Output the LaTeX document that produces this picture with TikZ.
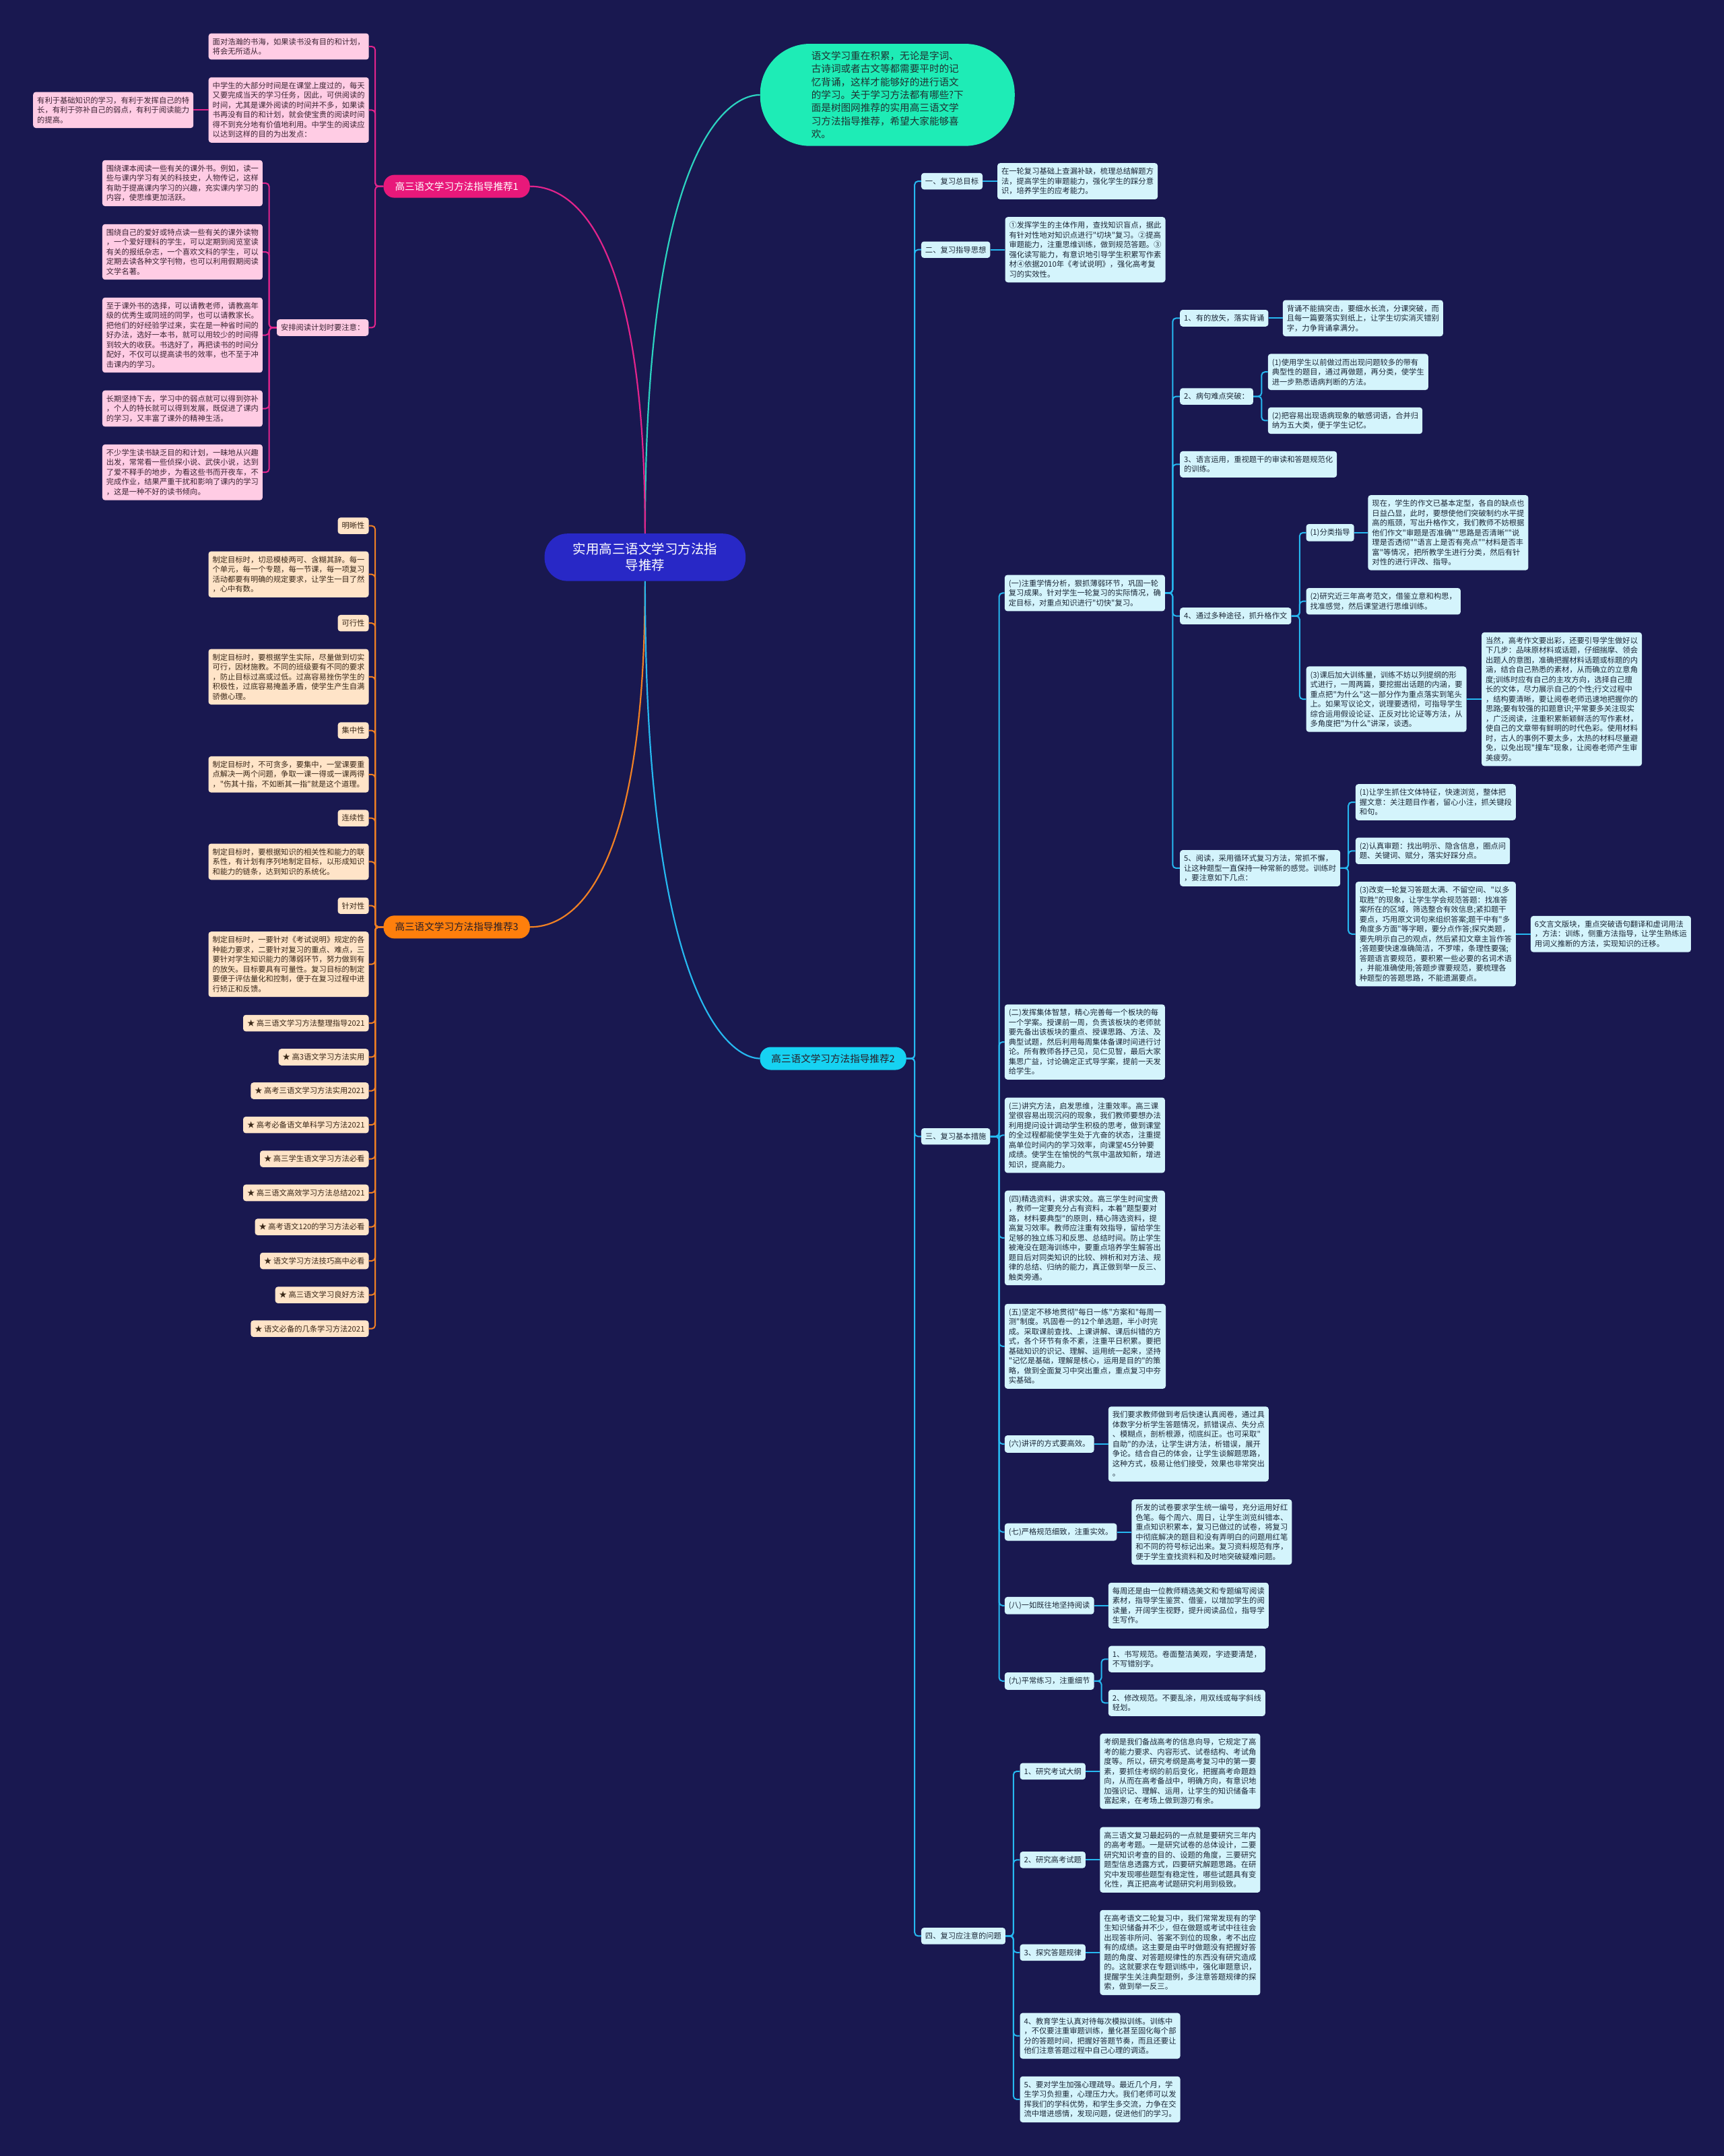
\documentclass[tikz,border=0pt]{standalone}
\usepackage{fontspec}
\setmainfont[Ligatures=TeXOff]{Noto Sans CJK SC}
\definecolor{bg}{RGB}{25,24,80}
\definecolor{rootfill}{RGB}{40,40,198}
\definecolor{mint}{RGB}{30,236,182}
\definecolor{minttext}{RGB}{30,50,50}
\definecolor{tealline}{RGB}{44,211,192}
\definecolor{magentalab}{RGB}{232,24,122}
\definecolor{pinkline}{RGB}{226,36,140}
\definecolor{pinkfill}{RGB}{255,204,228}
\definecolor{pinktext}{RGB}{60,36,52}
\definecolor{orangelab}{RGB}{255,127,12}
\definecolor{orangeline}{RGB}{240,128,36}
\definecolor{peachfill}{RGB}{255,228,200}
\definecolor{peachtext}{RGB}{58,40,24}
\definecolor{cyanlab}{RGB}{22,210,242}
\definecolor{cyanline}{RGB}{38,184,240}
\definecolor{cyanfill}{RGB}{212,244,252}
\definecolor{cyantext}{RGB}{28,40,56}
\definecolor{labdark}{RGB}{40,30,40}
\tikzset{
  notebase/.style={rounded corners=4pt, align=left, inner xsep=6pt, inner ysep=7pt,
    font=\fontsize{11.3}{14.5}\selectfont},
  pnote/.style={notebase, fill=pinkfill, text=pinktext},
  onote/.style={notebase, fill=peachfill, text=peachtext},
  cnote/.style={notebase, fill=cyanfill, text=cyantext},
  branchlab/.style={rounded corners=16pt, minimum height=34pt, inner xsep=17pt, inner ysep=0pt,
    font=\fontsize{14.6}{17}\selectfont},
  rootnode/.style={fill=rootfill, text=white, rounded corners=34pt, minimum width=298.5pt,
    minimum height=70.4pt, align=center, font=\fontsize{19.5}{24}\selectfont},
  bubblenode/.style={fill=mint, text=minttext, rounded corners=74pt, minimum width=378pt,
    minimum height=151.7pt, align=left, font=\fontsize{14.6}{19.4}\selectfont},
  pcon/.style={draw=pinkline, line width=2pt, rounded corners=5pt},
  ocon/.style={draw=orangeline, line width=2pt, rounded corners=5pt},
  ccon/.style={draw=cyanline, line width=2pt, rounded corners=5pt},
  mainline/.style={line width=2.2pt},
}
\begin{document}
\begin{tikzpicture}[x=2.0415pt,y=-2.0415pt]
\fill[bg] (0,0) rectangle (1254,1568);
\useasboundingbox (0,0) rectangle (1254,1568);

% ---------- root, bubble, branch labels ----------
\node[rootnode] (root) at (469.2,405.3) {实用高三语文学习方法指\\导推荐};
\node[bubblenode] (bub) at (645.5,69) {语文学习重在积累，无论是字词、\\古诗词或者古文等都需要平时的记\\忆背诵，这样才能够好的进行语文\\的学习。关于学习方法都有哪些?下\\面是树图网推荐的实用高三语文学\\习方法指导推荐，希望大家能够喜\\欢。};
\node[branchlab, fill=magentalab, text=white] (lab1) at (332.2,135.5) {高三语文学习方法指导推荐1};
\node[branchlab, fill=orangelab, text=labdark] (lab3) at (332.2,674.2) {高三语文学习方法指导推荐3};
\node[branchlab, fill=cyanlab, text=labdark] (lab2) at (606,769.8) {高三语文学习方法指导推荐2};

\draw[mainline, draw=tealline] (root.north) .. controls (469.2,105) and (530,69) .. (bub.west);
\draw[mainline, draw=pinkline] (root.north) .. controls (469.2,159.5) and (411.5,135.5) .. (lab1.east);
\draw[mainline, draw=orangeline] (root.south) .. controls (469.2,651) and (411.5,674.2) .. (lab3.east);
\draw[mainline, draw=cyanline] (root.south) .. controls (469.2,734.8) and (533.9,769.8) .. (lab2.west);

% ---------- branch 1 (pink) ----------
\node[pnote, anchor=east] (p1a) at (268.4,33.8) {面对浩瀚的书海，如果读书没有目的和计划，\\将会无所适从。};
\node[pnote, anchor=east] (p1b) at (268.4,80) {中学生的大部分时间是在课堂上度过的，每天\\又要完成当天的学习任务，因此，可供阅读的\\时间，尤其是课外阅读的时间并不多，如果读\\书再没有目的和计划，就会使宝贵的阅读时间\\得不到充分地有价值地利用。中学生的阅读应\\以达到这样的目的为出发点：};
\node[pnote, anchor=east] (p1c) at (140.8,80) {有利于基础知识的学习，有利于发挥自己的特\\长，有利于弥补自己的弱点，有利于阅读能力\\的提高。};
\node[pnote, anchor=east] (p1d) at (268.2,238.3) {安排阅读计划时要注意：};
\node[pnote, anchor=east] (pd1) at (191.1,133.2) {围绕课本阅读一些有关的课外书。例如，读一\\些与课内学习有关的科技史，人物传记，这样\\有助于提高课内学习的兴趣，充实课内学习的\\内容，使思维更加活跃。};
\node[pnote, anchor=east] (pd2) at (191.1,183.2) {围绕自己的爱好或特点读一些有关的课外读物\\，一个爱好理科的学生，可以定期到阅览室读\\有关的报纸杂志，一个喜欢文科的学生，可以\\定期去读各种文学刊物，也可以利用假期阅读\\文学名著。};
\node[pnote, anchor=east] (pd3) at (191.1,243.7) {至于课外书的选择，可以请教老师，请教高年\\级的优秀生或同班的同学，也可以请教家长。\\把他们的好经验学过来，实在是一种省时间的\\好办法，选好一本书，就可以用较少的时间得\\到较大的收获。书选好了，再把读书的时间分\\配好，不仅可以提高读书的效率，也不至于冲\\击课内的学习。};
\node[pnote, anchor=east] (pd4) at (191.1,297.1) {长期坚持下去，学习中的弱点就可以得到弥补\\，个人的特长就可以得到发展，既促进了课内\\的学习，又丰富了课外的精神生活。};
\node[pnote, anchor=east] (pd5) at (191.1,343.5) {不少学生读书缺乏目的和计划，一昧地从兴趣\\出发，常常看一些侦探小说、武侠小说，达到\\了爱不释手的地步，为看这些书而开夜车，不\\完成作业，结果严重干扰和影响了课内的学习\\，这是一种不好的读书倾向。};

\foreach \n in {p1a,p1b,p1d} \draw[pcon] (lab1.west) -- ++(-6,0) |- (\n.east);
\draw[pcon] (p1b.west) -- (p1c.east);
\foreach \n in {pd1,pd2,pd3,pd4,pd5} \draw[pcon] (p1d.west) -- ++(-5.5,0) |- (\n.east);

% ---------- branch 3 (orange) ----------
\node[onote, anchor=east] (o1h) at (268.3,382.4) {明晰性};
\node[onote, anchor=east] (o1n) at (268.3,417.7) {制定目标时，切忌模棱两可、含糊其辞。每一\\个单元，每一个专题，每一节课，每一项复习\\活动都要有明确的规定要求，让学生一目了然\\，心中有数。};
\node[onote, anchor=east] (o2h) at (268.3,453.2) {可行性};
\node[onote, anchor=east] (o2n) at (268.3,492.2) {制定目标时，要根据学生实际，尽量做到切实\\可行，因材施教。不同的班级要有不同的要求\\，防止目标过高或过低。过高容易挫伤学生的\\积极性，过底容易掩盖矛盾，使学生产生自满\\骄傲心理。};
\node[onote, anchor=east] (o3h) at (268.3,531.3) {集中性};
\node[onote, anchor=east] (o3n) at (268.3,563.2) {制定目标时，不可贪多，要集中，一堂课要重\\点解决一两个问题，争取一课一得或一课两得\\，"伤其十指，不如断其一指"就是这个道理。};
\node[onote, anchor=east] (o4h) at (268.3,595) {连续性};
\node[onote, anchor=east] (o4n) at (268.3,626.7) {制定目标时，要根据知识的相关性和能力的联\\系性，有计划有序列地制定目标，以形成知识\\和能力的链条，达到知识的系统化。};
\node[onote, anchor=east] (o5h) at (268.3,658.7) {针对性};
\node[onote, anchor=east] (o5n) at (268.3,701.3) {制定目标时，一要针对《考试说明》规定的各\\种能力要求，二要针对复习的重点、难点，三\\要针对学生知识能力的薄弱环节，努力做到有\\的放矢。目标要具有可量性。复习目标的制定\\要便于评估量化和控制，便于在复习过程中进\\行矫正和反馈。};
\node[onote, anchor=east] (ol1) at (268.3,744.1) {★ 高三语文学习方法整理指导2021};
\node[onote, anchor=east] (ol2) at (268.3,768.8) {★ 高3语文学习方法实用};
\node[onote, anchor=east] (ol3) at (268.3,793.3) {★ 高考三语文学习方法实用2021};
\node[onote, anchor=east] (ol4) at (268.3,818.1) {★ 高考必备语文单科学习方法2021};
\node[onote, anchor=east] (ol5) at (268.3,842.8) {★ 高三学生语文学习方法必看};
\node[onote, anchor=east] (ol6) at (268.3,867.5) {★ 高三语文高效学习方法总结2021};
\node[onote, anchor=east] (ol7) at (268.3,892.3) {★ 高考语文120的学习方法必看};
\node[onote, anchor=east] (ol8) at (268.3,917) {★ 语文学习方法技巧高中必看};
\node[onote, anchor=east] (ol9) at (268.3,941.8) {★ 高三语文学习良好方法};
\node[onote, anchor=east] (ol10) at (268.3,966.3) {★ 语文必备的几条学习方法2021};

\foreach \n in {o1h,o1n,o2h,o2n,o3h,o3n,o4h,o4n,o5h,o5n,ol1,ol2,ol3,ol4,ol5,ol6,ol7,ol8,ol9,ol10}
  \draw[ocon] (lab3.west) -- ++(-6,0) |- (\n.east);

% ---------- branch 2 (cyan) ----------
\node[cnote, anchor=west] (s1) at (670,131.8) {一、复习总目标};
\node[cnote, anchor=west] (s1n) at (725.4,131.8) {在一轮复习基础上查漏补缺，梳理总结解题方\\法，提高学生的审题能力，强化学生的踩分意\\识，培养学生的应考能力。};
\node[cnote, anchor=west] (s2) at (670,181.6) {二、复习指导思想};
\node[cnote, anchor=west] (s2n) at (731,181.6) {①发挥学生的主体作用，查找知识盲点，据此\\有针对性地对知识点进行"切块"复习。②提高\\审题能力，注重思维训练，做到规范答题。③\\强化读写能力，有意识地引导学生积累写作素\\材④依据2010年《考试说明》，强化高考复\\习的实效性。};
\node[cnote, anchor=west] (s3) at (670,826.5) {三、复习基本措施};
\node[cnote, anchor=west] (s4) at (670,1408) {四、复习应注意的问题};

\foreach \n in {s1,s2,s3,s4} \draw[ccon] (lab2.east) -- ++(6,0) |- (\n.west);
\draw[ccon] (s1.east) -- (s1n.west);
\draw[ccon] (s2.east) -- (s2n.west);

% 三
\node[cnote, anchor=west] (t1) at (730.7,431.3) {(一)注重学情分析，狠抓薄弱环节，巩固一轮\\复习成果。针对学生一轮复习的实际情况，确\\定目标，对重点知识进行"切快"复习。};
\node[cnote, anchor=west] (t2) at (730.7,757.8) {(二)发挥集体智慧，精心完善每一个板块的每\\一个学案。授课前一周，负责该板块的老师就\\要先备出该板块的重点、授课思路、方法、及\\典型试题，然后利用每周集体备课时间进行讨\\论。所有教师各抒己见，见仁见智，最后大家\\集思广益，讨论确定正式导学案，提前一天发\\给学生。};
\node[cnote, anchor=west] (t3) at (730.7,825.6) {(三)讲究方法，启发思维，注重效率。高三课\\堂很容易出现沉闷的现象，我们教师要想办法\\利用提问设计调动学生积极的思考，做到课堂\\的全过程都能使学生处于亢奋的状态，注重提\\高单位时间内的学习效率，向课堂45分钟要\\成绩。使学生在愉悦的气氛中温故知新，增进\\知识，提高能力。};
\node[cnote, anchor=west] (t4) at (730.7,900.3) {(四)精选资料，讲求实效。高三学生时间宝贵\\，教师一定要充分占有资料，本着"题型要对\\路，材料要典型"的原则，精心筛选资料，提\\高复习效率。教师应注重有效指导，留给学生\\足够的独立练习和反思、总结时间。防止学生\\被淹没在题海训练中，要重点培养学生解答出\\题目后对同类知识的比较、辨析和对方法、规\\律的总结、归纳的能力，真正做到举一反三、\\触类旁通。};
\node[cnote, anchor=west] (t5) at (730.7,979.1) {(五)坚定不移地贯彻"每日一练"方案和"每周一\\测"制度。巩固卷一的12个单选题，半小时完\\成。采取课前查找、上课讲解、课后纠错的方\\式，各个环节有条不紊，注重平日积累。要把\\基础知识的识记、理解、运用统一起来，坚持\\"记忆是基础，理解是核心，运用是目的"的策\\略，做到全面复习中突出重点，重点复习中夯\\实基础。};
\node[cnote, anchor=west] (t6) at (730.7,1050.2) {(六)讲评的方式要高效。};
\node[cnote, anchor=west] (t6n) at (806.1,1050.2) {我们要求教师做到考后快速认真阅卷，通过具\\体数字分析学生答题情况，抓错误点、失分点\\、模糊点，剖析根源，彻底纠正。也可采取"\\自助"的办法，让学生讲方法，析错误，展开\\争论。结合自己的体会，让学生谈解题思路，\\这种方式，极易让他们接受，效果也非常突出\\。};
\node[cnote, anchor=west] (t7) at (730.7,1114.2) {(七)严格规范细致，注重实效。};
\node[cnote, anchor=west] (t7n) at (823,1114.2) {所发的试卷要求学生统一编号，充分运用好红\\色笔。每个周六、周日，让学生浏览纠错本、\\重点知识积累本，复习已做过的试卷，将复习\\中彻底解决的题目和没有弄明白的问题用红笔\\和不同的符号标记出来。复习资料规范有序，\\便于学生查找资料和及时地突破疑难问题。};
\node[cnote, anchor=west] (t8) at (730.7,1167.7) {(八)一如既往地坚持阅读};
\node[cnote, anchor=west] (t8n) at (806.1,1167.7) {每周还是由一位教师精选美文和专题编写阅读\\素材，指导学生鉴赏、借鉴，以增加学生的阅\\读量，开阔学生视野，提升阅读品位，指导学\\生写作。};
\node[cnote, anchor=west] (t9) at (730.7,1222.6) {(九)平常练习，注重细节};
\node[cnote, anchor=west] (t9a) at (806.1,1206.6) {1、书写规范。卷面整洁美观，字迹要清楚，\\不写错别字。};
\node[cnote, anchor=west] (t9b) at (806.1,1238.5) {2、修改规范。不要乱涂，用双线或每字斜线\\轻划。};

\foreach \n in {t1,t2,t3,t4,t5,t6,t7,t8,t9} \draw[ccon] (s3.east) -- ++(6.4,0) |- (\n.west);
\draw[ccon] (t6.east) -- (t6n.west);
\draw[ccon] (t7.east) -- (t7n.west);
\draw[ccon] (t8.east) -- (t8n.west);
\foreach \n in {t9a,t9b} \draw[ccon] (t9.east) -- ++(5.3,0) |- (\n.west);

% (一) children
\node[cnote, anchor=west] (u1) at (858.2,231.4) {1、有的放矢，落实背诵};
\node[cnote, anchor=west] (u1n) at (933,231.4) {背诵不能搞突击，要细水长流，分课突破，而\\且每一篇要落实到纸上，让学生切实消灭错别\\字，力争背诵拿满分。};
\node[cnote, anchor=west] (u2) at (858.2,288.3) {2、病句难点突破：};
\node[cnote, anchor=west] (u2a) at (922.2,270.5) {(1)使用学生以前做过而出现问题较多的带有\\典型性的题目，通过再做题，再分类，使学生\\进一步熟悉语病判断的方法。};
\node[cnote, anchor=west] (u2b) at (922.2,305.9) {(2)把容易出现语病现象的敏感词语，合并归\\纳为五大类，便于学生记忆。};
\node[cnote, anchor=west] (u3) at (858.2,337.7) {3、语言运用，重视题干的审读和答题规范化\\的训练。};
\node[cnote, anchor=west] (u4) at (858.2,448) {4、通过多种途径，抓升格作文};
\node[cnote, anchor=west] (u4a) at (950,387.4) {(1)分类指导};
\node[cnote, anchor=west] (u4an) at (995,387.4) {现在，学生的作文已基本定型，各自的缺点也\\日益凸显，此时，要想使他们突破制约水平提\\高的瓶颈，写出升格作文，我们教师不妨根据\\他们作文"审题是否准确""思路是否清晰""说\\理是否透彻""语言上是否有亮点""材料是否丰\\富"等情况，把所教学生进行分类，然后有针\\对性的进行评改、指导。};
\node[cnote, anchor=west] (u4b) at (950,437.3) {(2)研究近三年高考范文，借鉴立意和构思，\\找准感觉，然后课堂进行思维训练。};
\node[cnote, anchor=west] (u4c) at (950,508.5) {(3)课后加大训练量，训练不妨以列提纲的形\\式进行，一周两篇，要挖掘出话题的内涵，要\\重点把"为什么"这一部分作为重点落实到笔头\\上。如果写议论文，说理要透彻，可指导学生\\综合运用假设论证、正反对比论证等方法，从\\多角度把"为什么"讲深，谈透。};
\node[cnote, anchor=west] (u4cn) at (1077.6,508.5) {当然，高考作文要出彩，还要引导学生做好以\\下几步：品味原材料或话题，仔细揣摩、领会\\出题人的意图，准确把握材料话题或标题的内\\涵，结合自己熟悉的素材，从而确立的立意角\\度;训练时应有自己的主攻方向，选择自己擅\\长的文体，尽力展示自己的个性;行文过程中\\，结构要清晰，要让阅卷老师迅速地把握你的\\思路;要有较强的扣题意识;平常要多关注现实\\，广泛阅读，注重积累新颖鲜活的写作素材，\\使自己的文章带有鲜明的时代色彩。使用材料\\时，古人的事例不要太多，太热的材料尽量避\\免，以免出现"撞车"现象，让阅卷老师产生审\\美疲劳。};
\node[cnote, anchor=west] (u5) at (858.2,631.4) {5、阅读，采用循环式复习方法，常抓不懈，\\让这种题型一直保持一种常新的感觉。训练时\\，要注意如下几点：};
\node[cnote, anchor=west] (u5a) at (985.9,583.4) {(1)让学生抓住文体特征，快速浏览，整体把\\握文意：关注题目作者，留心小注，抓关键段\\和句。};
\node[cnote, anchor=west] (u5b) at (985.9,618.8) {(2)认真审题：找出明示、隐含信息，圈点问\\题、关键词、赋分，落实好踩分点。};
\node[cnote, anchor=west] (u5c) at (985.9,679.3) {(3)改变一轮复习答题太满、不留空间、"以多\\取胜"的现象，让学生学会规范答题：找准答\\案所在的区域，筛选整合有效信息;紧扣题干\\要点，巧用原文词句来组织答案;题干中有"多\\角度多方面"等字眼，要分点作答;探究类题，\\要先明示自己的观点，然后紧扣文章主旨作答\\;答题要快速准确简洁，不罗嗦，条理性要强;\\答题语言要规范，要积累一些必要的名词术语\\，并能准确使用;答题步骤要规范，要梳理各\\种题型的答题思路，不能遗漏要点。};
\node[cnote, anchor=west] (u5cn) at (1113.3,679.3) {6文言文版块，重点突破语句翻译和虚词用法\\，方法：训练，侧重方法指导，让学生熟练运\\用词义推断的方法，实现知识的迁移。};

\foreach \n in {u1,u2,u3,u4,u5} \draw[ccon] (t1.east) -- ++(5.5,0) |- (\n.west);
\draw[ccon] (u1.east) -- (u1n.west);
\foreach \n in {u2a,u2b} \draw[ccon] (u2.east) -- ++(6,0) |- (\n.west);
\foreach \n in {u4a,u4b,u4c} \draw[ccon] (u4.east) -- ++(6,0) |- (\n.west);
\draw[ccon] (u4a.east) -- (u4an.west);
\draw[ccon] (u4c.east) -- (u4cn.west);
\foreach \n in {u5a,u5b,u5c} \draw[ccon] (u5.east) -- ++(5.8,0) |- (\n.west);
\draw[ccon] (u5c.east) -- (u5cn.west);

% 四
\node[cnote, anchor=west] (v1) at (741.8,1288.2) {1、研究考试大纲};
\node[cnote, anchor=west] (v1n) at (800,1288.2) {考纲是我们备战高考的信息向导，它规定了高\\考的能力要求、内容形式、试卷结构、考试角\\度等。所以，研究考纲是高考复习中的第一要\\素，要抓住考纲的前后变化，把握高考命题趋\\向，从而在高考备战中，明确方向，有意识地\\加强识记、理解、运用，让学生的知识储备丰\\富起来，在考场上做到游刃有余。};
\node[cnote, anchor=west] (v2) at (741.8,1352.6) {2、研究高考试题};
\node[cnote, anchor=west] (v2n) at (800,1352.6) {高三语文复习最起码的一点就是要研究三年内\\的高考考题。一是研究试卷的总体设计，二要\\研究知识考查的目的、设题的角度，三要研究\\题型信息透露方式，四要研究解题思路。在研\\究中发现哪些题型有稳定性，哪些试题具有变\\化性，真正把高考试题研究利用到极致。};
\node[cnote, anchor=west] (v3) at (741.8,1420) {3、探究答题规律};
\node[cnote, anchor=west] (v3n) at (800,1420) {在高考语文二轮复习中，我们常常发现有的学\\生知识储备并不少，但在做题或考试中往往会\\出现答非所问、答案不到位的现象，考不出应\\有的成绩。这主要是由平时做题没有把握好答\\题的角度、对答题规律性的东西没有研究造成\\的。这就要求在专题训练中，强化审题意识，\\提醒学生关注典型题例，多注意答题规律的探\\索，做到举一反三。};
\node[cnote, anchor=west] (v4) at (741.8,1480.6) {4、教育学生认真对待每次模拟训练。训练中\\，不仅要注重审题训练，量化甚至固化每个部\\分的答题时间，把握好答题节奏，而且还要让\\他们注意答题过程中自己心理的调适。};
\node[cnote, anchor=west] (v5) at (741.8,1526.8) {5、要对学生加强心理疏导。最近几个月，学\\生学习负担重，心理压力大。我们老师可以发\\挥我们的学科优势，和学生多交流，力争在交\\流中增进感情，发现问题，促进他们的学习。};

\foreach \n in {v1,v2,v3,v4,v5} \draw[ccon] (s4.east) -- ++(5.7,0) |- (\n.west);
\draw[ccon] (v1.east) -- (v1n.west);
\draw[ccon] (v2.east) -- (v2n.west);
\draw[ccon] (v3.east) -- (v3n.west);
\end{tikzpicture}
\end{document}
